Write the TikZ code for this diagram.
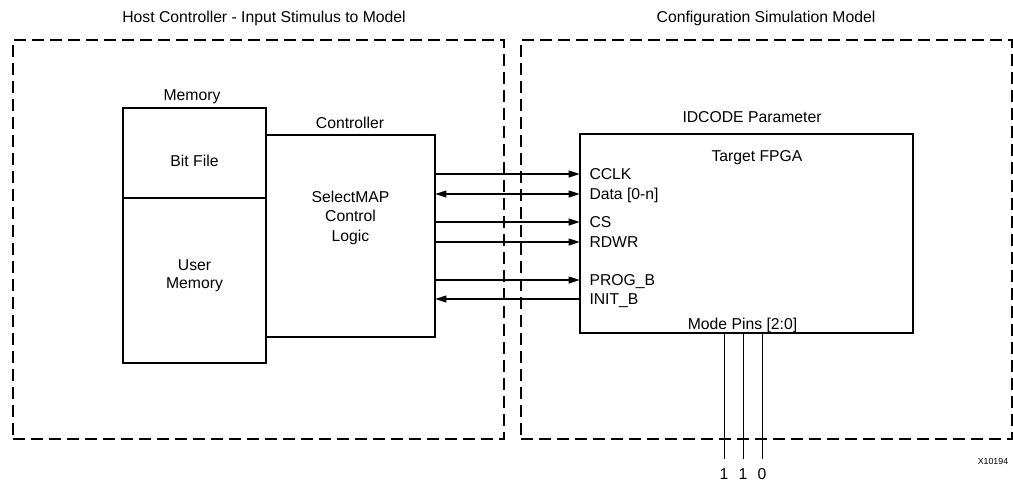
\documentclass[tikz,border=0pt]{standalone}
\usepackage{fontspec}
\setmainfont{Liberation Sans}
\usepackage{tikz}
\usetikzlibrary{arrows.meta}
\tikzset{every picture/.style={line width=0.75pt}}
\tikzset{
  lbl/.style={inner sep=0.75pt, font=\fontsize{11.8}{14.6}\selectfont, align=center},
  blockbox/.style={draw, line width=1.5pt, inner sep=0pt, outer sep=0pt},
  regionbox/.style={draw, line width=1.5pt, dash pattern=on 9pt off 4.5pt, inner sep=0pt, outer sep=0pt},
  sig/.style={line width=1.3pt, -{Triangle[length=8.5pt,width=5pt]}},
  bisig/.style={line width=1.3pt, {Triangle[length=8.5pt,width=5pt]}-{Triangle[length=8.5pt,width=5pt]}},
  pin/.style={line width=0.75pt},
}

\begin{document}
\begin{tikzpicture}[x=0.75pt,y=0.75pt,yscale=-1,xscale=1]
		\useasboundingbox (0,0) rectangle (1013,483);
		
		%Shape: Rectangle [id:host] 
		\node[regionbox, minimum width=368.25pt, minimum height=299.25pt] (host) at (258.5,239.5) {};
		%Shape: Rectangle [id:sim] 
		\node[regionbox, minimum width=368.25pt, minimum height=299.25pt] (sim) at (766.5,239.5) {};
		%Shape: Rectangle [id:bitfile] 
		\node[blockbox, minimum width=107.25pt, minimum height=67.5pt] (bitfile) at (194.5,153) {};
		%Shape: Rectangle [id:usermem] 
		\node[blockbox, minimum width=107.25pt, minimum height=123.75pt] (usermem) at (194.5,280.5) {};
		%Shape: Rectangle [id:ctrl] 
		\node[blockbox, minimum width=126.75pt, minimum height=151.5pt] (ctrl) at (350.5,236) {};
		%Shape: Rectangle [id:tgt] 
		\node[blockbox, minimum width=249.75pt, minimum height=149.25pt] (tgt) at (746.5,233.5) {};
		
		% Text Node
		\node[lbl] (hosttitle) at (264,18) {Host Controller - Input Stimulus to Model};
		% Text Node
		\node[lbl] (simtitle) at (766,18) {Configuration Simulation Model};
		% Text Node
		\node[lbl] (memtitle) at (192,97) {Memory};
		% Text Node
		\node[lbl] (ctrltitle) at (350,123) {Controller};
		% Text Node
		\node[lbl] (bitfiletext) at (194.5,161) {Bit File};
		% Text Node
		\node[lbl, font=\fontsize{11.8}{13.5}\selectfont] (usermemtext) at (194.5,276) {User\\Memory};
		% Text Node
		\node[lbl, font=\fontsize{11.8}{14.6}\selectfont] (ctrltext) at (350.5,217.5) {SelectMAP\\Control\\Logic};
		% Text Node
		\node[lbl] (idcode) at (752,117) {IDCODE Parameter};
		% Text Node
		\node[lbl] (tgttext) at (757,158) {Target FPGA};
		% Text Node
		\node[lbl] (modepins) at (742.5,325) {Mode Pins [2:0]};
		
		%Signal labels
		\node[lbl, anchor=west] (cclk) at (588,174) {CCLK};
		\node[lbl, anchor=west, text depth=0pt] (data) at (588,194) {Data [0-n]};
		\node[lbl, anchor=west] (cs) at (588,222) {CS};
		\node[lbl, anchor=west] (rdwr) at (588,242) {RDWR};
		\node[lbl, anchor=west, text depth=0pt] (progb) at (588,280) {PROG\_B};
		\node[lbl, anchor=west, text depth=0pt] (initb) at (588,299) {INIT\_B};
		
		%Straight Lines [id:signals] 
		\draw[sig] (ctrl.east |- cclk) -- (tgt.west |- cclk);
		\draw[bisig] (ctrl.east |- data) -- (tgt.west |- data);
		\draw[sig] (ctrl.east |- cs) -- (tgt.west |- cs);
		\draw[sig] (ctrl.east |- rdwr) -- (tgt.west |- rdwr);
		\draw[sig] (ctrl.east |- progb) -- (tgt.west |- progb);
		\draw[sig] (tgt.west |- initb) -- (ctrl.east |- initb);
		
		% Text Node
		\node[lbl, anchor=north, inner sep=0pt] (m2) at (724,468) {1};
		% Text Node
		\node[lbl, anchor=north, inner sep=0pt] (m1) at (743,468) {1};
		% Text Node
		\node[lbl, anchor=north, inner sep=0pt] (m0) at (762,468) {0};
		%Straight Lines [id:modepins] 
		\draw[pin] (tgt.south -| m2) -- ([yshift=-6.75pt]m2.north);
		\draw[pin] (tgt.south -| m1) -- ([yshift=-6.75pt]m1.north);
		\draw[pin] (tgt.south -| m0) -- ([yshift=-6.75pt]m0.north);
		
		% Text Node
		\node[lbl, font=\fontsize{6.6}{8}\selectfont] (figid) at (993,461) {X10194};
		
\end{tikzpicture}
\end{document}
